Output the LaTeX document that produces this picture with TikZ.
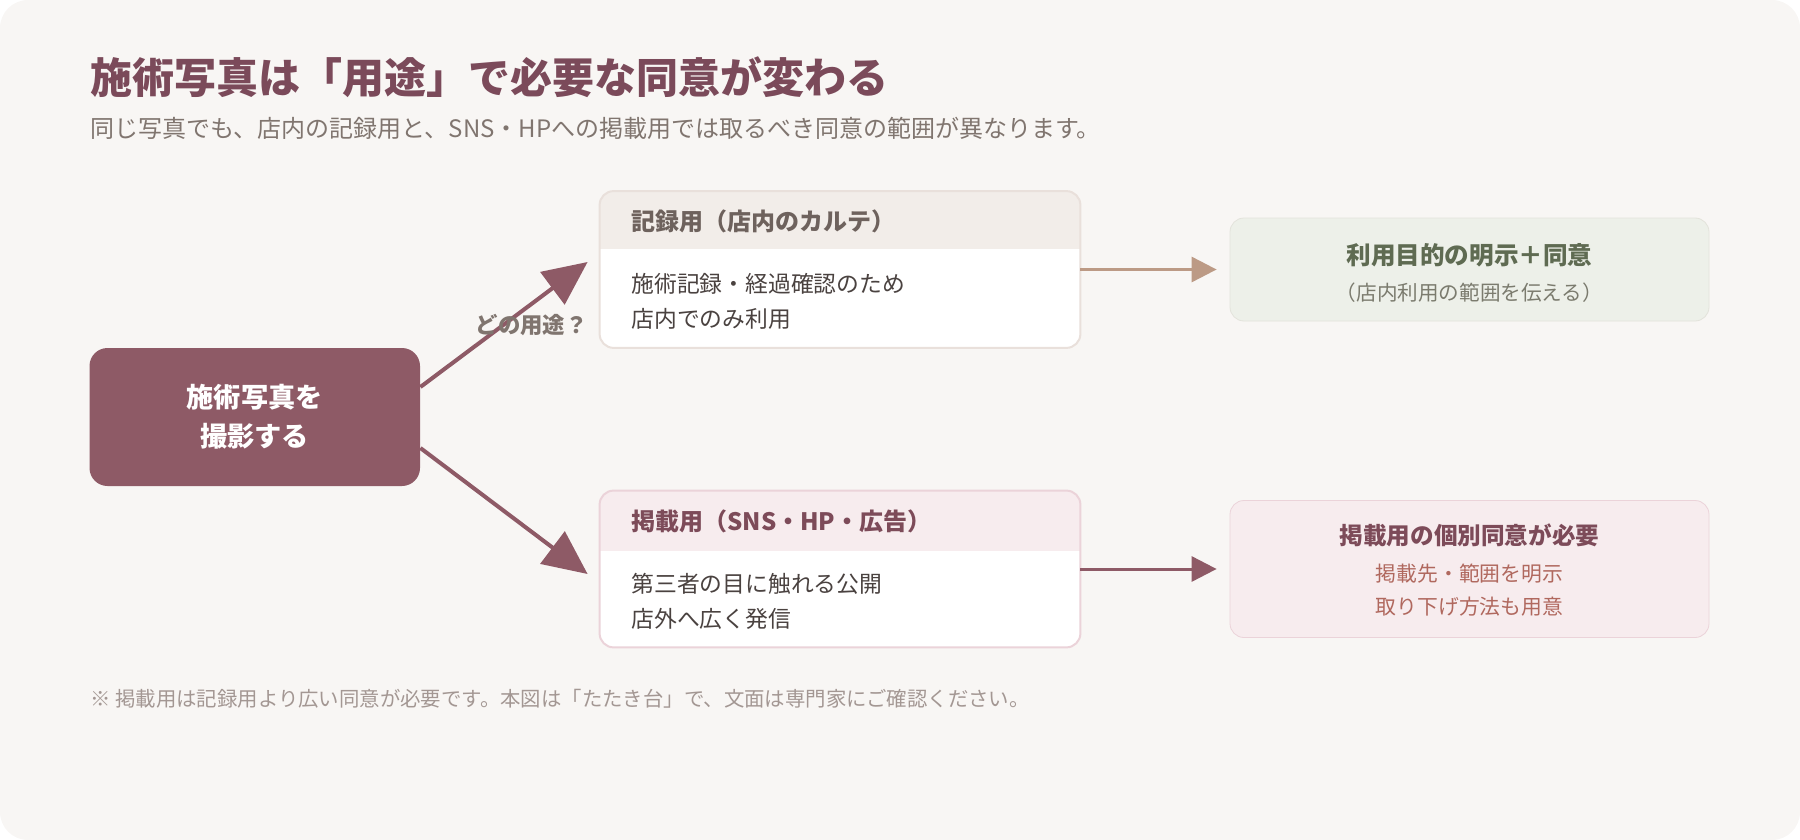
\documentclass[tikz,border=0pt]{standalone}
\usepackage{fontspec}
\setmainfont{Noto Sans CJK JP}
\usepackage{xcolor}
\usepackage{tikz}
\usetikzlibrary{arrows.meta}

\definecolor{pagebg}{HTML}{F8F6F4}
\definecolor{mauve}{HTML}{8E5A66}
\definecolor{titlecol}{HTML}{7B4A5A}
\definecolor{subcol}{HTML}{80756F}
\definecolor{bodytxt}{HTML}{4A4240}
\definecolor{recfill}{HTML}{F2EDE9}
\definecolor{recline}{HTML}{E9E0DB}
\definecolor{rectxt}{HTML}{6E625D}
\definecolor{pubfill}{HTML}{F7ECEE}
\definecolor{publine}{HTML}{EBD3D9}
\definecolor{pubtxt}{HTML}{7D4B59}
\definecolor{tan}{HTML}{BC9A85}
\definecolor{okfill}{HTML}{EDF0E9}
\definecolor{okline}{HTML}{E3E3DB}
\definecolor{oktxt}{HTML}{5F6B52}
\definecolor{oksub}{HTML}{7B7B6E}
\definecolor{needsub}{HTML}{B0685E}
\definecolor{notecol}{HTML}{A39793}

\begin{document}
\begin{tikzpicture}[x=0.5pt, y=-0.5pt,
  card/.style={rectangle, rounded corners=7pt, fill=white, minimum width=240pt,
               minimum height=78pt},
  goal/.style={rectangle, draw, rounded corners=7pt, minimum width=239.5pt},
  head/.style={anchor=west, inner sep=0pt, font=\fontsize{12pt}{14pt}\selectfont\bfseries},
  body/.style={anchor=west, inner sep=0pt, align=left, text=bodytxt,
               font=\fontsize{11.4pt}{17.5pt}\selectfont},
  bigarrow/.style={-{Triangle[length=22pt, width=20pt]}, line width=2pt, draw=mauve},
  arrow/.style={-{Triangle[length=12.5pt, width=12.5pt]}, line width=1.5pt}
]
\useasboundingbox (0,0) rectangle (1800,840);
\fill[pagebg, rounded corners=14pt] (0,0) rectangle (1800,840);

%% ---- Heading ----
\node[anchor=west, inner sep=0pt, text=titlecol, font=\fontsize{21pt}{24pt}\selectfont\bfseries]
  at (90,77) (title) {施術写真は「用途」で必要な同意が変わる};
\node[anchor=west, inner sep=0pt, text=subcol, font=\fontsize{12pt}{14pt}\selectfont]
  at (90,128) (subtitle) {同じ写真でも、店内の記録用と、SNS・HPへの掲載用では取るべき同意の範囲が異なります。};

%% ---- Start ----
\node[rectangle, rounded corners=9pt, fill=mauve, minimum width=165.25pt, minimum height=69pt,
      align=center, text=white, font=\fontsize{13.6pt}{19.5pt}\selectfont\bfseries]
  at (254.75,417) (shoot) {施術写真を\\撮影する};

%% ---- Use cards ----
\node[card] at (840,269.5) (rec) {};
\begin{scope}
  \clip[rounded corners=7pt] (rec.north west) rectangle (rec.south east);
  \fill[recfill] (rec.north west) rectangle ([yshift=-29pt]rec.north east);
\end{scope}
\draw[recline, line width=1pt, rounded corners=7pt] (rec.north west) rectangle (rec.south east);
\node[head, text=rectxt] at ([xshift=15.7pt,yshift=-15pt]rec.north west) (rechead) {記録用（店内のカルテ）};
\node[body] at ([xshift=15.7pt,yshift=-55pt]rec.north west) (recbody) {施術記録・経過確認のため\\店内でのみ利用};

\node[card] at (840,569) (pub) {};
\begin{scope}
  \clip[rounded corners=7pt] (pub.north west) rectangle (pub.south east);
  \fill[pubfill] (pub.north west) rectangle ([yshift=-30pt]pub.north east);
\end{scope}
\draw[publine, line width=1pt, rounded corners=7pt] (pub.north west) rectangle (pub.south east);
\node[head, text=pubtxt] at ([xshift=15.7pt,yshift=-15.5pt]pub.north west) (pubhead) {掲載用（SNS・HP・広告）};
\node[body] at ([xshift=15.7pt,yshift=-55.5pt]pub.north west) (pubbody) {第三者の目に触れる公開\\店外へ広く発信};

%% ---- Consent boxes ----
\node[goal, fill=okfill, draw=okline, minimum height=51.5pt] at (1469.5,269.5) (agree) {};
\node[text=oktxt, font=\fontsize{12.3pt}{14pt}\selectfont\bfseries]
  at ([yshift=7.25pt]agree.center) (agreehead) {利用目的の明示＋同意};
\node[text=oksub, font=\fontsize{10.3pt}{12pt}\selectfont]
  at ([yshift=-11.75pt]agree.center) (agreesub) {（店内利用の範囲を伝える）};

\node[goal, fill=pubfill, draw=publine, minimum height=68.5pt] at (1469.5,569) (need) {};
\node[text=pubtxt, font=\fontsize{11.8pt}{14pt}\selectfont\bfseries]
  at ([yshift=16.75pt]need.center) (needhead) {掲載用の個別同意が必要};
\node[text=needsub, align=center, font=\fontsize{10.4pt}{16.5pt}\selectfont]
  at ([yshift=-10.5pt]need.center) (needsubs) {掲載先・範囲を明示\\取り下げ方法も用意};

%% ---- Arrows ----
\draw[bigarrow] ([yshift=15pt]shoot.east) -- ([xshift=-6pt,yshift=3.75pt]rec.west);
\draw[bigarrow] ([yshift=-15.5pt]shoot.east) -- ([xshift=-6pt,yshift=-2.5pt]pub.west);
\node[anchor=east, inner sep=0pt, text=subcol, font=\fontsize{11.2pt}{13pt}\selectfont\bfseries]
  at (588,325) (which) {どの用途？};
\draw[arrow, draw=tan] (rec.east) -- ([xshift=-6.5pt]agree.west);
\draw[arrow, draw=mauve] (pub.east) -- ([xshift=-6.5pt]need.west);

%% ---- Note ----
\node[anchor=west, inner sep=0pt, text=notecol, font=\fontsize{10.2pt}{12pt}\selectfont]
  at (90,699) (note) {※ 掲載用は記録用より広い同意が必要です。本図は「たたき台」で、文面は専門家にご確認ください。};
\end{tikzpicture}
\end{document}
